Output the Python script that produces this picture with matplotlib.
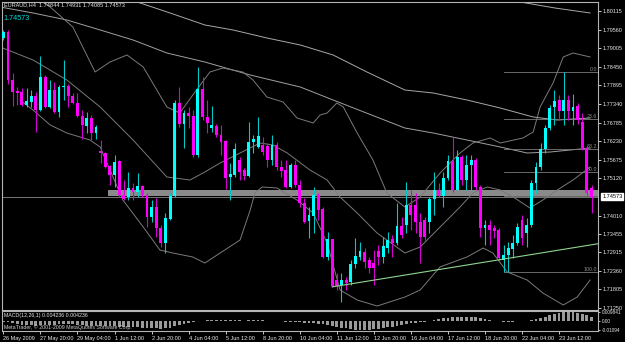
import numpy as np
import matplotlib
matplotlib.use("Agg")
import matplotlib.pyplot as plt
import matplotlib.transforms as mtransforms
from matplotlib.patches import Rectangle

plt.rcParams['font.family'] = ['Liberation Sans', 'DejaVu Sans']

# EURAUD H4 candles, 26 May 2009 12:00 .. 24 Jun 2009 16:00 (bar index = position)
opens = [
    1.7931, 1.7949, 1.7806, 1.7773, 1.7770, 1.7731, 1.7740, 1.7758,
    1.7716, 1.7814, 1.7725, 1.7776, 1.7710, 1.7785, 1.7788, 1.7758,
    1.7737, 1.7698, 1.7668, 1.7692, 1.7647, 1.7594, 1.7588, 1.7549,
    1.7522, 1.7564, 1.7462, 1.7456, 1.7483, 1.7471, 1.7489, 1.7462,
    1.7396, 1.7426, 1.7363, 1.7318, 1.7390, 1.7459, 1.7737, 1.7674,
    1.7707, 1.7698, 1.7582, 1.7779, 1.7695, 1.7662, 1.7668, 1.7641,
    1.7623, 1.7516, 1.7522, 1.7567, 1.7537, 1.7519, 1.7620, 1.7605,
    1.7611, 1.7608, 1.7567, 1.7611, 1.7546, 1.7537, 1.7486, 1.7552,
    1.7492, 1.7438, 1.7384, 1.7399, 1.7462, 1.7420, 1.7277, 1.7330,
    1.7208, 1.7194, 1.7208, 1.7203, 1.7256, 1.7277, 1.7292, 1.7268,
    1.7259, 1.7295, 1.7277, 1.7304, 1.7330, 1.7318, 1.7369, 1.7372,
    1.7432, 1.7432, 1.7381, 1.7387, 1.7381, 1.7450, 1.7477, 1.7459,
    1.7513, 1.7564, 1.7477, 1.7576, 1.7507, 1.7552, 1.7567, 1.7486,
    1.7363, 1.7372, 1.7363, 1.7357, 1.7268, 1.7283, 1.7301, 1.7318,
    1.7387, 1.7348, 1.7372, 1.7498, 1.7546, 1.7600, 1.7662, 1.7725,
    1.7746, 1.7713, 1.7746, 1.7713, 1.7728, 1.7680, 1.7602, 1.74844,
]
highs = [
    1.7955, 1.7955, 1.7826, 1.7785, 1.7782, 1.7782, 1.7776, 1.7770,
    1.7877, 1.7820, 1.7806, 1.7800, 1.7791, 1.7865, 1.7794, 1.7767,
    1.7767, 1.7716, 1.7710, 1.7701, 1.7671, 1.7626, 1.7591, 1.7552,
    1.7582, 1.7567, 1.7507, 1.7531, 1.7498, 1.7528, 1.7492, 1.7468,
    1.7447, 1.7453, 1.7372, 1.7408, 1.7468, 1.7746, 1.7785, 1.7716,
    1.7725, 1.7716, 1.7844, 1.7814, 1.7746, 1.7728, 1.7674, 1.7671,
    1.7626, 1.7558, 1.7617, 1.7576, 1.7543, 1.7680, 1.7641, 1.7695,
    1.7635, 1.7617, 1.7641, 1.7620, 1.7567, 1.7567, 1.7558, 1.7567,
    1.7507, 1.7453, 1.7426, 1.7486, 1.7468, 1.7426, 1.7351, 1.7330,
    1.7229, 1.7229, 1.7218, 1.7268, 1.7333, 1.7321, 1.7304, 1.7277,
    1.7298, 1.7312, 1.7336, 1.7351, 1.7342, 1.7438, 1.7396, 1.7501,
    1.7477, 1.7468, 1.7408, 1.7396, 1.7456, 1.7531, 1.7498, 1.7531,
    1.7582, 1.7635, 1.7597, 1.7582, 1.7582, 1.7582, 1.7573, 1.7492,
    1.7387, 1.7387, 1.7372, 1.7363, 1.7312, 1.7321, 1.7342, 1.7378,
    1.7402, 1.7393, 1.7507, 1.7561, 1.7617, 1.7671, 1.7731, 1.7776,
    1.7761, 1.7829, 1.7761, 1.7764, 1.7737, 1.7707, 1.7611, 1.74931,
]
lows = [
    1.7925, 1.7794, 1.7728, 1.7731, 1.7728, 1.7725, 1.7725, 1.7650,
    1.7713, 1.7722, 1.7722, 1.7707, 1.7695, 1.7746, 1.7725, 1.7734,
    1.7695, 1.7629, 1.7647, 1.7626, 1.7629, 1.7558, 1.7543, 1.7492,
    1.7486, 1.7456, 1.7447, 1.7447, 1.7447, 1.7456, 1.7456, 1.7366,
    1.7381, 1.7336, 1.7307, 1.7289, 1.7387, 1.7456, 1.7665, 1.7602,
    1.7662, 1.7576, 1.7576, 1.7686, 1.7647, 1.7650, 1.7635, 1.7582,
    1.7480, 1.7447, 1.7516, 1.7507, 1.7507, 1.7516, 1.7588, 1.7602,
    1.7582, 1.7546, 1.7552, 1.7537, 1.7516, 1.7483, 1.7483, 1.7486,
    1.7426, 1.7378, 1.7333, 1.7348, 1.7387, 1.7274, 1.7268, 1.7188,
    1.7179, 1.7143, 1.7179, 1.7194, 1.7244, 1.7268, 1.7244, 1.7229,
    1.7194, 1.7253, 1.7259, 1.7289, 1.7277, 1.7312, 1.7333, 1.7348,
    1.7357, 1.7348, 1.7259, 1.7327, 1.7348, 1.7402, 1.7456, 1.7426,
    1.7507, 1.7471, 1.7471, 1.7492, 1.7477, 1.7468, 1.7477, 1.7336,
    1.7312, 1.7312, 1.7333, 1.7262, 1.7232, 1.7232, 1.7274, 1.7312,
    1.7312, 1.7307, 1.7366, 1.7468, 1.7537, 1.7588, 1.7656, 1.7671,
    1.7686, 1.7671, 1.7686, 1.7671, 1.7674, 1.7597, 1.7462, 1.74085,
]
closes = [
    1.7949, 1.7806, 1.7770, 1.7767, 1.7731, 1.7743, 1.7758, 1.7716,
    1.7814, 1.7725, 1.7776, 1.7710, 1.7785, 1.7788, 1.7758, 1.7737,
    1.7698, 1.7671, 1.7692, 1.7647, 1.7665, 1.7588, 1.7546, 1.7522,
    1.7561, 1.7462, 1.7450, 1.7483, 1.7471, 1.7489, 1.7462, 1.7396,
    1.7426, 1.7363, 1.7318, 1.7393, 1.7459, 1.7737, 1.7674, 1.7707,
    1.7698, 1.7582, 1.7779, 1.7695, 1.7677, 1.7671, 1.7641, 1.7620,
    1.7513, 1.7525, 1.7600, 1.7531, 1.7519, 1.7620, 1.7629, 1.7638,
    1.7591, 1.7567, 1.7611, 1.7546, 1.7534, 1.7486, 1.7552, 1.7492,
    1.7438, 1.7381, 1.7402, 1.7462, 1.7417, 1.7277, 1.7330, 1.7191,
    1.7191, 1.7208, 1.7200, 1.7256, 1.7280, 1.7295, 1.7262, 1.7244,
    1.7244, 1.7277, 1.7309, 1.7327, 1.7318, 1.7369, 1.7342, 1.7432,
    1.7402, 1.7381, 1.7336, 1.7336, 1.7450, 1.7477, 1.7459, 1.7513,
    1.7564, 1.7477, 1.7576, 1.7507, 1.7552, 1.7567, 1.7486, 1.7363,
    1.7372, 1.7357, 1.7354, 1.7274, 1.7283, 1.7304, 1.7318, 1.7366,
    1.7333, 1.7372, 1.7498, 1.7546, 1.7600, 1.7662, 1.7722, 1.7743,
    1.7713, 1.7746, 1.7713, 1.7725, 1.7686, 1.7602, 1.7468, 1.74573,
]

# MACD(12,26,1) main values per bar
macd = [
    -0.0015, -0.0022, -0.0032, -0.0041, -0.0048, -0.0052, -0.0055, -0.0059,
    -0.0052, -0.0050, -0.0046, -0.0048, -0.0044, -0.0041, -0.0042, -0.0045,
    -0.0049, -0.0055, -0.0058, -0.0061, -0.0062, -0.0062, -0.0064, -0.0066,
    -0.0067, -0.0070, -0.0074, -0.0076, -0.0077, -0.0078, -0.0081, -0.0085,
    -0.0088, -0.0092, -0.0094, -0.0090, -0.0083, -0.0062, -0.0047, -0.0036,
    -0.0026, -0.0019, -0.0008, -0.0002, 0.0003, 0.0007, 0.0009, 0.0010,
    0.0007, 0.0004, 0.0004, 0.0003, -0.0001, 0.0001, 0.0003, 0.0004,
    0.0003, 0.0000, -0.0002, -0.0005, -0.0008, -0.0012, -0.0014, -0.0017,
    -0.0021, -0.0028, -0.0032, -0.0034, -0.0037, -0.0045, -0.0050, -0.0062,
    -0.0074, -0.0084, -0.0092, -0.0098, -0.0104, -0.0108, -0.0109, -0.0106,
    -0.0101, -0.0094, -0.0086, -0.0078, -0.0070, -0.0060, -0.0052, -0.0040,
    -0.0031, -0.0024, -0.0020, -0.0017, -0.0009, 0.0004, 0.0014, 0.0024,
    0.0034, 0.0036, 0.0042, 0.0043, 0.0045, 0.0046, 0.0042, 0.0030,
    0.0015, 0.0005, -0.0003, -0.0010, -0.0014, -0.0016, -0.0015, -0.0010,
    -0.0008, -0.0004, 0.0006, 0.0018, 0.0030, 0.0045, 0.0062, 0.0078,
    0.0090, 0.0097, 0.0098, 0.0094, 0.0088, 0.0078, 0.0062, 0.004236,
]

# indicator lines: (bar, price)
ma_slow_x = [28.9, 36.0, 43.5, 49.6, 56.9, 64.1, 71.2, 78.5, 86.7, 92.8, 100.1, 107.3, 114.4, 119.6, 126.7]
ma_slow_y = [1.80383, 1.80055, 1.79697, 1.79548, 1.79309, 1.79100, 1.78801, 1.78294, 1.77756,
             1.77667, 1.77458, 1.77219, 1.76951, 1.76861, 1.76921]
ma_mid_x = [-0.7, 6.4, 13.7, 20.9, 28.0, 35.3, 43.5, 53.3, 64.1, 71.2, 86.7, 92.8, 100.1, 107.3, 113.1, 118.1, 126.7]
ma_mid_y = [1.80234, 1.80055, 1.79846, 1.79548, 1.79249, 1.78861, 1.78592, 1.78204, 1.77846, 1.77458,
            1.76622, 1.76473, 1.76264, 1.76055, 1.75876, 1.75906, 1.76025]
ma_top_x = [111.6, 119.1, 126.7]
ma_top_y = [1.80383, 1.80204, 1.80055]

bb_up_x = [7.9, 10.1, 15.0, 19.8, 23.0, 26.7, 30.2, 35.3, 38.1, 40.9, 44.6, 47.4, 51.7, 53.9, 56.9,
           60.4, 63.4, 66.9, 68.4, 69.9, 72.0, 73.4, 76.4, 79.8, 82.8, 86.7, 90.0, 94.3, 98.6, 101.4,
           105.1, 107.3, 112.2, 114.4, 115.9, 118.7, 120.9, 123.0, 126.7]
bb_up_y = [1.80443, 1.80234, 1.79637, 1.78294, 1.78592, 1.78801, 1.78443, 1.77249, 1.77070, 1.77607,
           1.78294, 1.78413, 1.78294, 1.78055, 1.77548, 1.77398, 1.76921, 1.76772, 1.77010, 1.77070,
           1.77368, 1.77249, 1.76473, 1.75667, 1.74682, 1.74264, 1.74562, 1.75279, 1.75876, 1.76174,
           1.76324, 1.76174, 1.76324, 1.76503, 1.77249, 1.77965, 1.78742, 1.78861, 1.78742]
bb_mid_x = [-0.7, 6.4, 13.7, 20.9, 28.0, 35.3, 40.3, 43.5, 46.8, 51.1, 55.4, 58.2, 61.3, 66.2, 69.9,
            72.7, 76.4, 80.7, 86.7, 90.0, 94.3, 98.6, 101.4, 104.5, 107.3, 110.1, 113.7, 116.5, 119.6,
            123.0, 126.7]
bb_mid_y = [1.79040, 1.78652, 1.78055, 1.77249, 1.76264, 1.75160, 1.75070, 1.75309, 1.75578, 1.75876,
            1.76174, 1.76115, 1.75876, 1.75368, 1.75070, 1.74562, 1.74085, 1.73488, 1.72891, 1.73070,
            1.73667, 1.74264, 1.74682, 1.74861, 1.74771, 1.74562, 1.74234, 1.74473, 1.74771, 1.75070,
            1.75458]
bb_lo_x = [3.6, 6.4, 10.1, 13.7, 18.7, 20.9, 25.8, 30.2, 33.8, 36.6, 40.9, 43.5, 46.8, 51.1, 53.3,
           54.3, 55.9, 59.1, 63.4, 66.9, 69.9, 72.7, 76.4, 80.7, 86.7, 90.0, 94.3, 100.1, 103.6, 105.7,
           108.8, 113.1, 116.5, 120.9, 123.9, 126.7]
bb_lo_y = [1.77458, 1.77159, 1.76712, 1.76473, 1.76264, 1.76055, 1.74473, 1.73667, 1.72980, 1.72891,
           1.72772, 1.72592, 1.72891, 1.73279, 1.74174, 1.74682, 1.74861, 1.74831, 1.74473, 1.74085,
           1.73190, 1.71787, 1.71488, 1.71309, 1.71577, 1.71787, 1.72476, 1.72772, 1.73040, 1.72891,
           1.72324, 1.72085, 1.71697, 1.71339, 1.71577, 1.72085]

# trendline anchors, support zone, fibonacci
trend_x = [71, 108]
trend_y = [1.7188, 1.7271]
zone_start = 22.6
zone_lo, zone_hi = 1.7459, 1.7477
fib_start, fib_high, fib_low = 108, 1.7829, 1.7232
fib_levels = [0.0, 23.6, 38.2, 50.0, 61.8, 100.0]

price_ticks = [1.80115, 1.79560, 1.79005, 1.78450, 1.77895, 1.77340, 1.76785, 1.76230, 1.75675,
               1.75120, 1.74010, 1.73455, 1.72915, 1.72360, 1.71805, 1.71250]
last_price = 1.74573
date_idx = list(range(0, 128, 8))
date_labels = ["26 May 2009", "27 May 20:00", "29 May 04:00", "1 Jun 12:00", "2 Jun 20:00",
               "4 Jun 04:00", "5 Jun 12:00", "8 Jun 20:00", "10 Jun 04:00", "11 Jun 12:00",
               "12 Jun 20:00", "16 Jun 04:00", "17 Jun 12:00", "18 Jun 20:00", "22 Jun 04:00",
               "23 Jun 12:00"]

BULL, BEAR = '#00ffff', '#ff00ff'
TXT = '#e8e8e8'
FRAME = '#b4b4b4'

fig = plt.figure(figsize=(6.25, 3.42), dpi=100, facecolor='black')
ax = fig.add_axes([2 / 625, 32 / 342, 596 / 625, 308 / 342], facecolor='black')
ax2 = fig.add_axes([2 / 625, 11 / 342, 596 / 625, 20 / 342], facecolor='black')

xlim = (-0.3, 128.4)
ax.set_xlim(*xlim)
ax.set_ylim(1.71190, 1.80383)

# support zone and current price line
ax.add_patch(Rectangle((zone_start, zone_lo), xlim[1] - zone_start, zone_hi - zone_lo,
                       color='#8a8a8a', lw=0, zorder=1))
ax.axhline(last_price, color='#8a8a8a', lw=0.6, zorder=1)

# moving averages and bollinger bands
for xs, ys, col in [(ma_slow_x, ma_slow_y, '#a8a8a8'), (ma_mid_x, ma_mid_y, '#a0a0a0'),
                    (ma_top_x, ma_top_y, '#a8a8a8'), (bb_up_x, bb_up_y, '#7a7a7a'),
                    (bb_mid_x, bb_mid_y, '#7a7a7a'), (bb_lo_x, bb_lo_y, '#7a7a7a')]:
    ax.plot(xs, ys, color=col, lw=0.7, zorder=2)

# fibonacci retracement
for lev in fib_levels:
    p = fib_high - lev / 100 * (fib_high - fib_low)
    ax.plot([fib_start, xlim[1]], [p, p], color='#7a7a7a', lw=0.6, zorder=2)
    ax.text(128.2, p, f"{lev:.1f}", color='#8c8c8c', fontsize=3.8, ha='right', va='bottom', zorder=2)

# trendline extended to the right edge
slope = (trend_y[1] - trend_y[0]) / (trend_x[1] - trend_x[0])
ax.plot([trend_x[0], xlim[1]], [trend_y[0], trend_y[0] + slope * (xlim[1] - trend_x[0])],
        color='#8fd48f', lw=0.8, zorder=4)

# candles
o, h, l, c = map(np.array, (opens, highs, lows, closes))
idx = np.arange(len(o))
up = c >= o
ax.vlines(idx, l, h, colors=np.where(up, '#00c8c8', '#d400d4'), lw=0.8, zorder=3)
body = np.maximum(np.abs(c - o), 0.00018)
ax.bar(idx, body, bottom=np.minimum(o, c), width=0.62, color=np.where(up, BULL, BEAR), lw=0, zorder=3)

# axes styling
for a in (ax, ax2):
    for s in a.spines.values():
        s.set_color(FRAME)
        s.set_linewidth(0.8)
ax.set_xticks([])
ax.yaxis.tick_right()
ax.set_yticks(price_ticks)
ax.set_yticklabels([f"{p:.5f}" for p in price_ticks])
ax.tick_params(axis='y', labelsize=4, colors=TXT, length=2, width=0.6, pad=1)

# current price marker on the scale
ax.text(1.007, last_price, f"{last_price:.5f}",
        transform=mtransforms.blended_transform_factory(ax.transAxes, ax.transData),
        color='black', fontsize=4, va='center', ha='left', clip_on=False,
        bbox=dict(boxstyle='square,pad=0.15', fc='white', ec='white'))

ax.text(0.004, 0.99, "EURAUD,H4  1.74844 1.74931 1.74085 1.74573", transform=ax.transAxes,
        color=TXT, fontsize=4, va='center', ha='left')
ax.text(0.003, 0.945, f"{last_price:.5f}", transform=ax.transAxes,
        color='#00e0e0', fontsize=5.2, va='center', ha='left')

# MACD panel
ax2.set_xlim(*xlim)
ax2.set_ylim(-0.0121, 0.0110)
ax2.bar(np.arange(len(macd)), macd, width=0.6, color='#9a9a9a', lw=0)
ax2.yaxis.tick_right()
ax2.set_yticks([0.009841, 0.0, -0.01094])
ax2.set_yticklabels(["0.009841", "0.00", "-0.01094"])
ax2.tick_params(axis='y', labelsize=3.4, colors=TXT, length=1.5, width=0.6, pad=1)
ax2.set_xticks(date_idx)
ax2.set_xticklabels(date_labels, ha='left')
ax2.tick_params(axis='x', labelsize=4, colors=TXT, length=2, width=0.6, pad=1.5)
ax2.text(0.004, 0.75, "MACD(12,26,1) 0.004236 0.004236", transform=ax2.transAxes,
         color=TXT, fontsize=3.8, va='center', ha='left')
ax2.text(0.004, 0.2, "MetaTrader, \u00a9 2001-2009 MetaQuotes Software Corp.", transform=ax2.transAxes,
         color='#d0d0d0', fontsize=3.8, va='center', ha='left')

fig.savefig('out.png', dpi=100, facecolor='black')
